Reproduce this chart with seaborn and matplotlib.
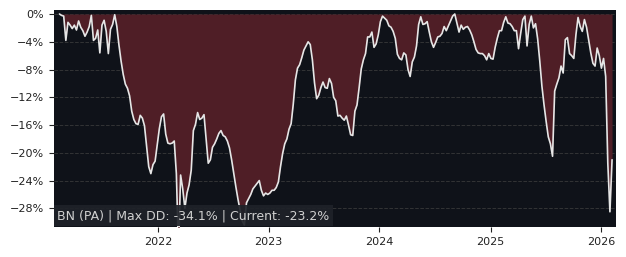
import numpy as np
import pandas as pd
import matplotlib
matplotlib.use("Agg")
import matplotlib.pyplot as plt
import matplotlib.dates as mdates
from matplotlib.ticker import PercentFormatter, MultipleLocator
import seaborn as sns

# ---- data (weekly drawdown, %) ----
start_date = "2021-02-11"
drawdown = [
    0.0, -0.2, -0.3, -3.8, -1.2, -1.6, -2.1, -1.6, -2.3, -1.0,
    -1.9, -2.4, -3.2, -2.6, -1.8, -0.2, -3.8, -3.5, -2.3, -5.6,
    -1.6, -0.9, -2.5, -5.7, -2.2, -1.5, -0.1, -1.8, -4.5, -6.8,
    -8.7, -10.1, -10.7, -11.8, -14.0, -15.2, -15.8, -15.9, -14.6, -15.0,
    -16.1, -19.0, -22.0, -23.0, -21.7, -21.2, -18.9, -16.5, -14.8, -14.4,
    -17.3, -18.6, -18.7, -18.6, -18.3, -23.0, -34.1, -23.2, -25.2, -28.0,
    -25.8, -24.6, -22.5, -16.8, -15.9, -14.2, -15.2, -15.0, -14.5, -18.0,
    -21.5, -21.0, -19.2, -18.7, -18.0, -17.2, -16.8, -17.5, -17.7, -18.3,
    -19.3, -21.0, -23.0, -24.9, -26.7, -28.3, -29.8, -30.4, -27.2, -26.6,
    -26.0, -25.2, -24.8, -24.4, -24.0, -25.4, -26.2, -25.8, -26.0, -25.8,
    -25.4, -25.4, -25.0, -24.2, -22.0, -20.1, -18.7, -18.0, -16.6, -15.8,
    -13.0, -9.5, -7.8, -7.3, -6.3, -5.2, -4.6, -4.0, -4.4, -6.6,
    -9.9, -12.2, -11.7, -10.6, -9.8, -10.6, -10.7, -9.3, -10.0, -12.0,
    -12.5, -14.7, -14.6, -15.0, -15.3, -14.7, -16.0, -17.4, -17.5, -14.0,
    -13.1, -10.6, -7.9, -6.6, -5.7, -3.3, -3.3, -2.6, -4.8, -4.3,
    -3.0, -1.1, -0.3, -0.6, -0.9, -1.7, -1.9, -2.5, -3.5, -5.8,
    -6.4, -6.6, -5.6, -5.9, -8.0, -9.0, -6.9, -6.2, -4.6, -1.5,
    -0.4, -1.5, -1.4, -1.1, -2.6, -4.0, -4.8, -4.1, -3.3, -3.2,
    -2.8, -1.8, -2.4, -1.7, -1.0, -0.3, 0.0, -1.3, -2.6, -1.6,
    -2.2, -1.9, -1.8, -2.3, -3.0, -4.0, -5.1, -5.6, -5.7, -5.7,
    -6.0, -6.6, -5.7, -6.4, -6.5, -4.8, -3.5, -2.4, -2.4, -1.2,
    -0.4, -1.3, -1.4, -1.8, -2.4, -2.4, -5.0, -2.8, -0.8, -0.3,
    -4.6, -1.5, -0.3, -2.0, -1.4, -3.6, -6.8, -10.4, -13.1, -15.5,
    -17.7, -18.7, -20.5, -11.1, -10.1, -9.2, -7.5, -8.5, -3.7, -3.4,
    -5.7, -6.0, -6.4, -3.0, -0.5, -1.8, -2.5, -0.8, -1.9, -3.8,
    -5.6, -7.1, -7.5, -4.9, -6.0, -7.8, -6.4, -9.0, -21.5, -28.5,
    -21.0,
]
ticker_label = "BN (PA)"
max_dd_text = "-34.1%"
current_text = "-23.2%"
year_ticks = ["2022-01-01", "2023-01-01", "2024-01-01", "2025-01-01", "2026-01-01"]
y_ticks = [0, -4, -8, -12, -16, -20, -24, -28]

dates = pd.date_range(start_date, periods=len(drawdown), freq="7D")
df = pd.DataFrame({"date": dates, "dd": drawdown})

# ---- styling ----
sns.set_style("ticks")
plt.rcParams["font.family"] = ["DejaVu Sans"]

bg = "#0f1219"
fill_c = "#4f1e26"
line_c = "#e6e6e6"

fig = plt.figure(figsize=(6.26, 2.57), dpi=100)
ax = fig.add_axes([54 / 626, 1 - 227 / 257, (616 - 54) / 626, (227 - 10) / 257])
ax.set_facecolor(bg)

ax.fill_between(df["date"], df["dd"], 0, color=fill_c, linewidth=0, zorder=1)
sns.lineplot(data=df, x="date", y="dd", ax=ax, color=line_c, linewidth=1.2, zorder=3)

ax.set_ylim(-30.69, 0.58)
ax.set_xlim(pd.Timestamp("2021-01-24"), pd.Timestamp("2026-02-18"))

ax.set_yticks(y_ticks)
ax.yaxis.set_major_formatter(PercentFormatter(decimals=0))
ax.set_xticks(pd.to_datetime(year_ticks))
ax.xaxis.set_major_formatter(mdates.DateFormatter("%Y"))
ax.tick_params(axis="both", labelsize=8, colors="#222222", length=3.5, width=0.8)
ax.grid(axis="y", color="#3c3c3c", linestyle="--", linewidth=0.7, alpha=0.8, zorder=0)
ax.grid(axis="x", visible=False)
ax.set_axisbelow(True)
for s in ax.spines.values():
    s.set_visible(False)
ax.set_xlabel("")
ax.set_ylabel("")

ax.text(0.006, 0.022,
        f"{ticker_label} | Max DD: {max_dd_text} | Current: {current_text}",
        transform=ax.transAxes, fontsize=9, color="#d0d0d0", ha="left", va="bottom",
        zorder=5,
        bbox=dict(boxstyle="square,pad=0.3", facecolor="#1f2229", edgecolor="none", alpha=0.92))

fig.savefig("out.png", dpi=100, facecolor="white")
